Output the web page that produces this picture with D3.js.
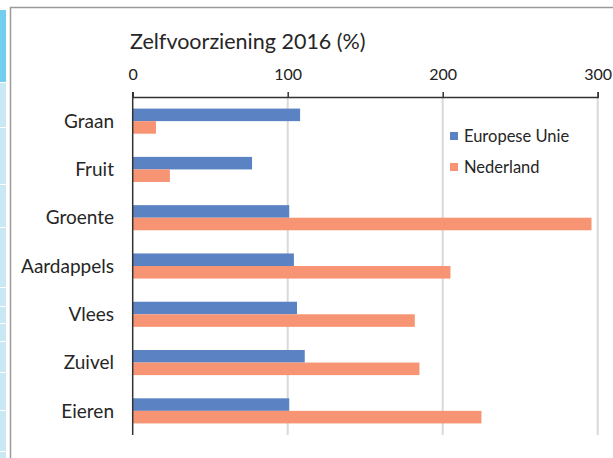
<!DOCTYPE html>
<html lang="nl">
  <head>
    <meta charset="utf-8">
    <title>Zelfvoorziening 2016</title>
    <script src="https://d3js.org/d3.v7.min.js"></script>
    <style>
      body { margin: 0; background: #fff; }
      svg { display: block; font-family: Lato, "Open Sans", sans-serif; }
    </style>
  </head>
  <body>
    <script>
      // data
      const categories = ["Graan", "Fruit", "Groente", "Aardappels", "Vlees", "Zuivel", "Eieren"]
      const series = ["Europese Unie", "Nederland"]
      const euValues = [108, 77, 101, 104, 106, 111, 101]
      const nlValues = [15, 24, 296, 205, 182, 185, 225]
      const xTicks = [0, 100, 200, 300]

      const colors = { "Europese Unie": "#5b83c3", "Nederland": "#f69474" }

      const W = 613, H = 458
      const svg = d3.select("body").append("svg")
        .attr("width", W)
        .attr("height", H)

      // spreadsheet strip on the left edge (decoration)
      svg.append("rect").attr("x", 0).attr("y", 10).attr("width", 6).attr("height", 72).attr("fill", "#72cdee")
      const cuts = [82, 127, 184, 227, 287, 306, 323, 341, 372, 410, 451, 458]
      for (let i = 0; i < cuts.length - 1; i++) {
        svg.append("rect").attr("x", 0).attr("y", cuts[i] + 1).attr("width", 6)
          .attr("height", cuts[i + 1] - cuts[i] - 1).attr("fill", "#c9e8f4")
      }

      // chart frame
      svg.append("path")
        .attr("d", `M10.5,${H} V7.5 H${W}`)
        .attr("fill", "none")
        .attr("stroke", "#9a9a9a")
        .attr("stroke-width", 1.5)

      const x = d3.scaleLinear().domain([0, 300]).range([132.7, 597.7])
      const y = d3.scaleBand().domain(categories).range([97, 435])
        .paddingInner(0.48).paddingOuter(0.24)
      const ySub = d3.scaleBand().domain(series).range([0, y.bandwidth()])

      // gridlines
      svg.append("g")
        .selectAll("line")
        .data(xTicks.slice(1))
        .join("line")
        .attr("x1", d => x(d)).attr("x2", d => x(d))
        .attr("y1", 97).attr("y2", 435)
        .attr("stroke", "#d9d9d9")
        .attr("stroke-width", 2)

      // bars
      const rows = categories.map((c, i) => ({ cat: c, vals: [euValues[i], nlValues[i]] }))
      const groups = svg.append("g").selectAll("g")
        .data(rows)
        .join("g")
        .attr("transform", d => `translate(0,${y(d.cat)})`)

      groups.selectAll("rect")
        .data(d => series.map((s, j) => ({ s: s, v: d.vals[j] })))
        .join("rect")
        .attr("x", x(0))
        .attr("y", d => ySub(d.s))
        .attr("width", d => x(d.v) - x(0))
        .attr("height", ySub.bandwidth())
        .attr("fill", d => colors[d.s])

      // top axis
      const xAxis = d3.axisTop(x).tickValues(xTicks).tickSize(5).tickPadding(12)
      const gx = svg.append("g")
        .attr("transform", "translate(0,97)")
        .call(xAxis)
      gx.select(".domain").attr("stroke", "#333").attr("stroke-width", 1.5)
      gx.selectAll(".tick line").attr("stroke", "#333").attr("stroke-width", 1.5)
      gx.selectAll(".tick text")
        .attr("font-family", "Lato, 'Open Sans', sans-serif")
        .attr("font-size", 16)
        .attr("fill", "#222")

      // left axis line
      svg.append("line")
        .attr("x1", x(0)).attr("x2", x(0))
        .attr("y1", 92).attr("y2", 435)
        .attr("stroke", "#333")
        .attr("stroke-width", 1.5)

      // category labels
      svg.append("g").selectAll("text")
        .data(categories)
        .join("text")
        .attr("x", 114)
        .attr("y", d => y(d) + y.bandwidth() / 2)
        .attr("dy", "0.35em")
        .attr("text-anchor", "end")
        .attr("font-size", 19)
        .attr("fill", "#262626")
        .text(d => d)

      // title
      svg.append("text")
        .attr("x", 130)
        .attr("y", 49)
        .attr("font-size", 21.5)
        .attr("fill", "#262626")
        .text("Zelfvoorziening 2016 (%)")

      // legend
      const legend = svg.append("g").selectAll("g")
        .data(series)
        .join("g")
        .attr("transform", (d, i) => `translate(450,${136 + i * 31})`)
      legend.append("rect")
        .attr("x", 0).attr("y", -4)
        .attr("width", 8).attr("height", 8)
        .attr("fill", d => colors[d])
      legend.append("text")
        .attr("x", 14)
        .attr("dy", "0.35em")
        .attr("font-size", 16.5)
        .attr("fill", "#262626")
        .text(d => d)
    </script>
  </body>
</html>
